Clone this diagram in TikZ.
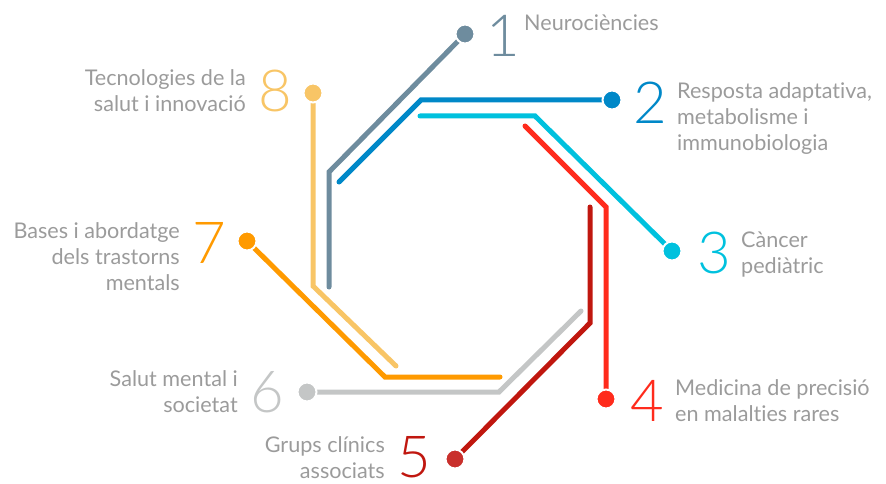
\documentclass[tikz,border=0pt]{standalone}
\usepackage{fontspec}
\setmainfont{Lato}[Ligatures=NoCommon]
\newfontfamily\numfont{Lato Light}
\definecolor{c1}{HTML}{6E8C9E}
\definecolor{c2}{HTML}{0088C8}
\definecolor{c3}{HTML}{00C1DE}
\definecolor{c4}{HTML}{FF2B1C}
\definecolor{c5}{HTML}{C0170F}
\definecolor{c5d}{HTML}{C9302C}
\definecolor{c6}{HTML}{C4C6C6}
\definecolor{c7}{HTML}{FF9A00}
\definecolor{c8}{HTML}{F8C566}
\definecolor{lblc}{HTML}{9B9B9B}
\tikzset{
  track/.style={line width=5pt, line cap=round, line join=miter, draw=#1},
  dotnode/.style={circle, fill=#1, draw=white, line width=2pt, minimum size=19pt, inner sep=0pt},
  num/.style={font=\numfont\fontsize{58}{58}\selectfont, text=#1, inner sep=0pt, anchor=base},
  lbll/.style={font=\fontsize{21.6}{26}\selectfont, text=lblc, inner sep=0pt, align=left, anchor=base west},
  lblr/.style={font=\fontsize{21.6}{26}\selectfont, text=lblc, inner sep=0pt, align=right, anchor=base east},
}
\begin{document}
\begin{tikzpicture}[x=1pt,y=-1pt]
\useasboundingbox (0,0) rectangle (886,484);
% dot positions
\coordinate (d1) at (465,34);
\coordinate (d2) at (612,100);
\coordinate (d3) at (672,251);
\coordinate (d4) at (606,399);
\coordinate (d5) at (455,459);
\coordinate (d6) at (307,392);
\coordinate (d7) at (247,241);
\coordinate (d8) at (313,93);
% bend / free-end coordinates
\coordinate (b1) at (329,172); \coordinate (e1) at (329,287);
\coordinate (b2) at (421,100); \coordinate (e2) at (339,182);
\coordinate (e3) at (420,116); \coordinate (b3) at (535,116);
\coordinate (e4) at (525,126); \coordinate (b4) at (606,207);
\coordinate (e5) at (590,207); \coordinate (b5) at (590,323);
\coordinate (b6) at (499,392); \coordinate (e6) at (581,311);
\coordinate (b7) at (385,377); \coordinate (e7) at (500,377);
\coordinate (b8) at (313,286); \coordinate (e8) at (396,366);
% tracks
\draw[track=c8] (d8) -- (b8) -- (e8);
\draw[track=c1] (d1) -- (b1) -- (e1);
\draw[track=c2] (d2) -- (b2) -- (e2);
\draw[track=c3] (e3) -- (b3) -- (d3);
\draw[track=c4] (e4) -- (b4) -- (d4);
\draw[track=c5] (e5) -- (b5) -- (d5);
\draw[track=c6] (d6) -- (b6) -- (e6);
\draw[track=c7] (d7) -- (b7) -- (e7);
% dots
\node[dotnode=c1] (n1) at (d1) {};
\node[dotnode=c2] (n2) at (d2) {};
\node[dotnode=c3] (n3) at (d3) {};
\node[dotnode=c4] (n4) at (d4) {};
\node[dotnode=c5d] (n5) at (d5) {};
\node[dotnode=c6] (n6) at (d6) {};
\node[dotnode=c7] (n7) at (d7) {};
\node[dotnode=c8] (n8) at (d8) {};
% numbers
\node[num=c1] (k1) at (503,57) {1};
\node[num=c2] (k2) at (650,124) {2};
\node[num=c3] (k3) at (714,273) {3};
\node[num=c4] (k4) at (647,421) {4};
\node[num=c5] (k5) at (414,477) {5};
\node[num=c6] (k6) at (267,412) {6};
\node[num=c7] (k7) at (209,263) {7};
\node[num=c8] (k8) at (275,112) {8};
% labels (anchored at baseline of last line)
\node[lbll] (t1) at (524,31) {Neurociències};
\node[lbll] (t2) at (677,150) {Resposta adaptativa,\\metabolisme i\\immunobiologia};
\node[lbll] (t3) at (741,273) {Càncer\\pediàtric};
\node[lbll] (t4) at (675,421) {Medicina de precisió\\en malalties rares};
\node[lblr] (t5) at (385,478) {Grups clínics\\associats};
\node[lblr] (t6) at (238,412) {Salut mental i\\societat};
\node[lblr] (t7) at (180,290) {Bases i abordatge\\dels trastorns\\mentals};
\node[lblr] (t8) at (246,112) {Tecnologies de la\\salut i innovació};
\end{tikzpicture}
\end{document}
